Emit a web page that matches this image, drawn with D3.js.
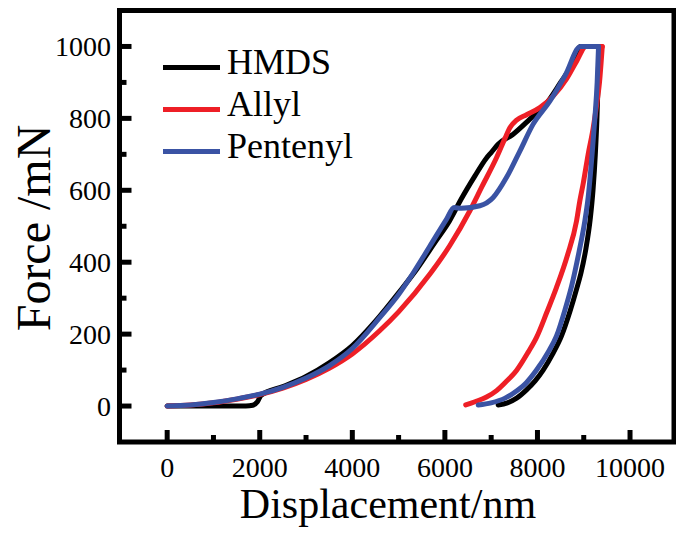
<!DOCTYPE html>
<html>
<head>
<meta charset="utf-8">
<script src="https://cdn.jsdelivr.net/npm/d3@7"></script>
<style>
  html, body { margin: 0; padding: 0; background: #fff; }
  svg { display: block; }
</style>
</head>
<body>
<svg id="chart" width="676" height="533"></svg>
<script>
// Load–unload indentation curves: displacement (nm) vs force (mN)
const seriesNames = ["HMDS", "Allyl", "Pentenyl"];
const seriesColors = ["#000000", "#ee1f26", "#3a53a4"];

// Loading branches (increasing displacement, ending at the hold)
const hmdsLoadDisp = [0, 600, 1200, 1700, 1850, 1950, 2030, 2500, 3000, 3500, 4000, 4500, 5000, 5400, 5800, 6100, 6350, 6650, 6900, 7000, 7150, 7475, 7836, 8196, 8500, 8750, 8930, 9330];
const hmdsLoadForce = [0, 0, 0, 0, 2, 12, 30, 54, 82, 120, 168, 236, 315, 382, 458, 515, 575, 640, 690, 705, 728, 756, 798, 842, 900, 950, 1000, 1000];
// Unloading branches (from the hold back down)
const hmdsUnloadDisp = [9330, 9310, 9285, 9250, 9200, 9140, 9050, 8940, 8845, 8700, 8520, 8330, 8123, 7950, 7764, 7550, 7350, 7150];
const hmdsUnloadForce = [1000, 900, 800, 700, 600, 520, 440, 370, 325, 262, 195, 145, 100, 70, 45, 22, 9, 3];

const allylLoadDisp = [0, 500, 1000, 1500, 2000, 2500, 3000, 3500, 4000, 4596, 5000, 5677, 6100, 6540, 6800, 7117, 7300, 7404, 7550, 7764, 8052, 8339, 8628, 8850, 9050, 9400];
const allylLoadForce = [0, 3, 9, 19, 32, 50, 74, 105, 145, 210, 262, 367, 445, 543, 610, 691, 745, 774, 795, 810, 830, 862, 910, 960, 1000, 1000];
const allylUnloadDisp = [9400, 9340, 9290, 9200, 9095, 8990, 8916, 8845, 8650, 8412, 8200, 7980, 7800, 7548, 7300, 7117, 6900, 6650, 6450];
const allylUnloadForce = [1000, 900, 848, 770, 700, 620, 571, 515, 420, 330, 260, 191, 150, 99, 65, 43, 25, 12, 3];

const pentenylLoadDisp = [0, 500, 1000, 1500, 2000, 2500, 3000, 3500, 4000, 4600, 5000, 5315, 5677, 6037, 6200, 6350, 6756, 7044, 7333, 7620, 7907, 8268, 8600, 8930, 9320];
const pentenylLoadForce = [0, 3, 10, 20, 33, 52, 78, 112, 160, 247, 310, 370, 445, 520, 552, 550, 557, 580, 636, 709, 784, 848, 920, 1000, 1000];
const pentenylUnloadDisp = [9320, 9290, 9240, 9180, 9095, 9024, 8900, 8740, 8600, 8412, 8240, 7980, 7760, 7548, 7300, 7000, 6720];
const pentenylUnloadForce = [1000, 900, 800, 700, 580, 515, 430, 335, 270, 195, 152, 100, 65, 42, 22, 9, 3];

const xTicks = [0, 2000, 4000, 6000, 8000, 10000];
const xMinorTicks = [1000, 3000, 5000, 7000, 9000];
const yTicks = [0, 200, 400, 600, 800, 1000];
const yMinorTicks = [100, 300, 500, 700, 900];

const xTitle = "Displacement/nm";
const yTitle = "Force /mN";

const serif = '"Liberation Serif"';

const svg = d3.select("#chart");
const frameL = 119.5, frameR = 674, frameT = 10.5, frameB = 442;

const x = d3.scaleLinear().domain([-1030, 10950]).range([frameL, frameR]);
const y = d3.scaleLinear().domain([-100, 1100]).range([frameB, frameT]);

const zip = (xs, ys) => xs.map((v, i) => [v, ys[i]]);
const series = [
  { name: seriesNames[0], color: seriesColors[0],
    load: zip(hmdsLoadDisp, hmdsLoadForce), unload: zip(hmdsUnloadDisp, hmdsUnloadForce) },
  { name: seriesNames[1], color: seriesColors[1],
    load: zip(allylLoadDisp, allylLoadForce), unload: zip(allylUnloadDisp, allylUnloadForce) },
  { name: seriesNames[2], color: seriesColors[2],
    load: zip(pentenylLoadDisp, pentenylLoadForce), unload: zip(pentenylUnloadDisp, pentenylUnloadForce) }
];

const line = d3.line()
  .x(d => x(d[0]))
  .y(d => y(d[1]))
  .curve(d3.curveMonotoneX);

const plot = svg.append("g");
series.forEach(s => {
  [s.load, s.unload.slice().reverse()].forEach(branch => {
    plot.append("path")
      .datum(branch)
      .attr("d", line)
      .attr("fill", "none")
      .attr("stroke", s.color)
      .attr("stroke-width", 5)
      .attr("stroke-linejoin", "round")
      .attr("stroke-linecap", "round");
  });
});

// Inward ticks on the bottom and left edges
const tickW = 5;
const axisG = svg.append("g");
function xTick(v, len) {
  axisG.append("line")
    .attr("x1", x(v)).attr("x2", x(v))
    .attr("y1", frameB).attr("y2", frameB - len)
    .attr("stroke", "#000").attr("stroke-width", tickW);
}
function yTick(v, len) {
  axisG.append("line")
    .attr("y1", y(v)).attr("y2", y(v))
    .attr("x1", frameL).attr("x2", frameL + len)
    .attr("stroke", "#000").attr("stroke-width", tickW);
}
xTicks.forEach(v => xTick(v, 12));
xMinorTicks.forEach(v => xTick(v, 7));
yTicks.forEach(v => yTick(v, 12));
yMinorTicks.forEach(v => yTick(v, 7));

// Frame
svg.append("rect")
  .attr("x", frameL).attr("y", frameT)
  .attr("width", frameR - frameL).attr("height", frameB - frameT)
  .attr("fill", "none").attr("stroke", "#000").attr("stroke-width", 5);

// Tick labels
svg.append("g").selectAll("text").data(xTicks).join("text")
  .attr("x", d => x(d))
  .attr("y", 477)
  .attr("text-anchor", "middle")
  .style("font-family", serif)
  .style("font-size", "28px")
  .text(d => d);

svg.append("g").selectAll("text").data(yTicks).join("text")
  .attr("x", 111)
  .attr("y", d => y(d) + 9.5)
  .attr("text-anchor", "end")
  .style("font-family", serif)
  .style("font-size", "28px")
  .text(d => d);

// Axis titles
svg.append("text")
  .attr("x", 388).attr("y", 518)
  .attr("text-anchor", "middle")
  .style("font-family", serif)
  .style("font-size", "42px")
  .text(xTitle);

svg.append("text")
  .attr("transform", "translate(50,228) rotate(-90)")
  .attr("text-anchor", "middle")
  .style("font-family", serif)
  .style("font-size", "48px")
  .text(yTitle);

// Legend
const legend = svg.append("g");
const legendY = [67.5, 109.5, 151.5];
series.forEach((s, i) => {
  legend.append("line")
    .attr("x1", 163).attr("x2", 220)
    .attr("y1", legendY[i]).attr("y2", legendY[i])
    .attr("stroke", s.color).attr("stroke-width", 5);
  legend.append("text")
    .attr("x", 227).attr("y", legendY[i] + 6)
    .style("font-family", serif)
    .style("font-size", "36px")
    .text(s.name);
});
</script>
</body>
</html>
